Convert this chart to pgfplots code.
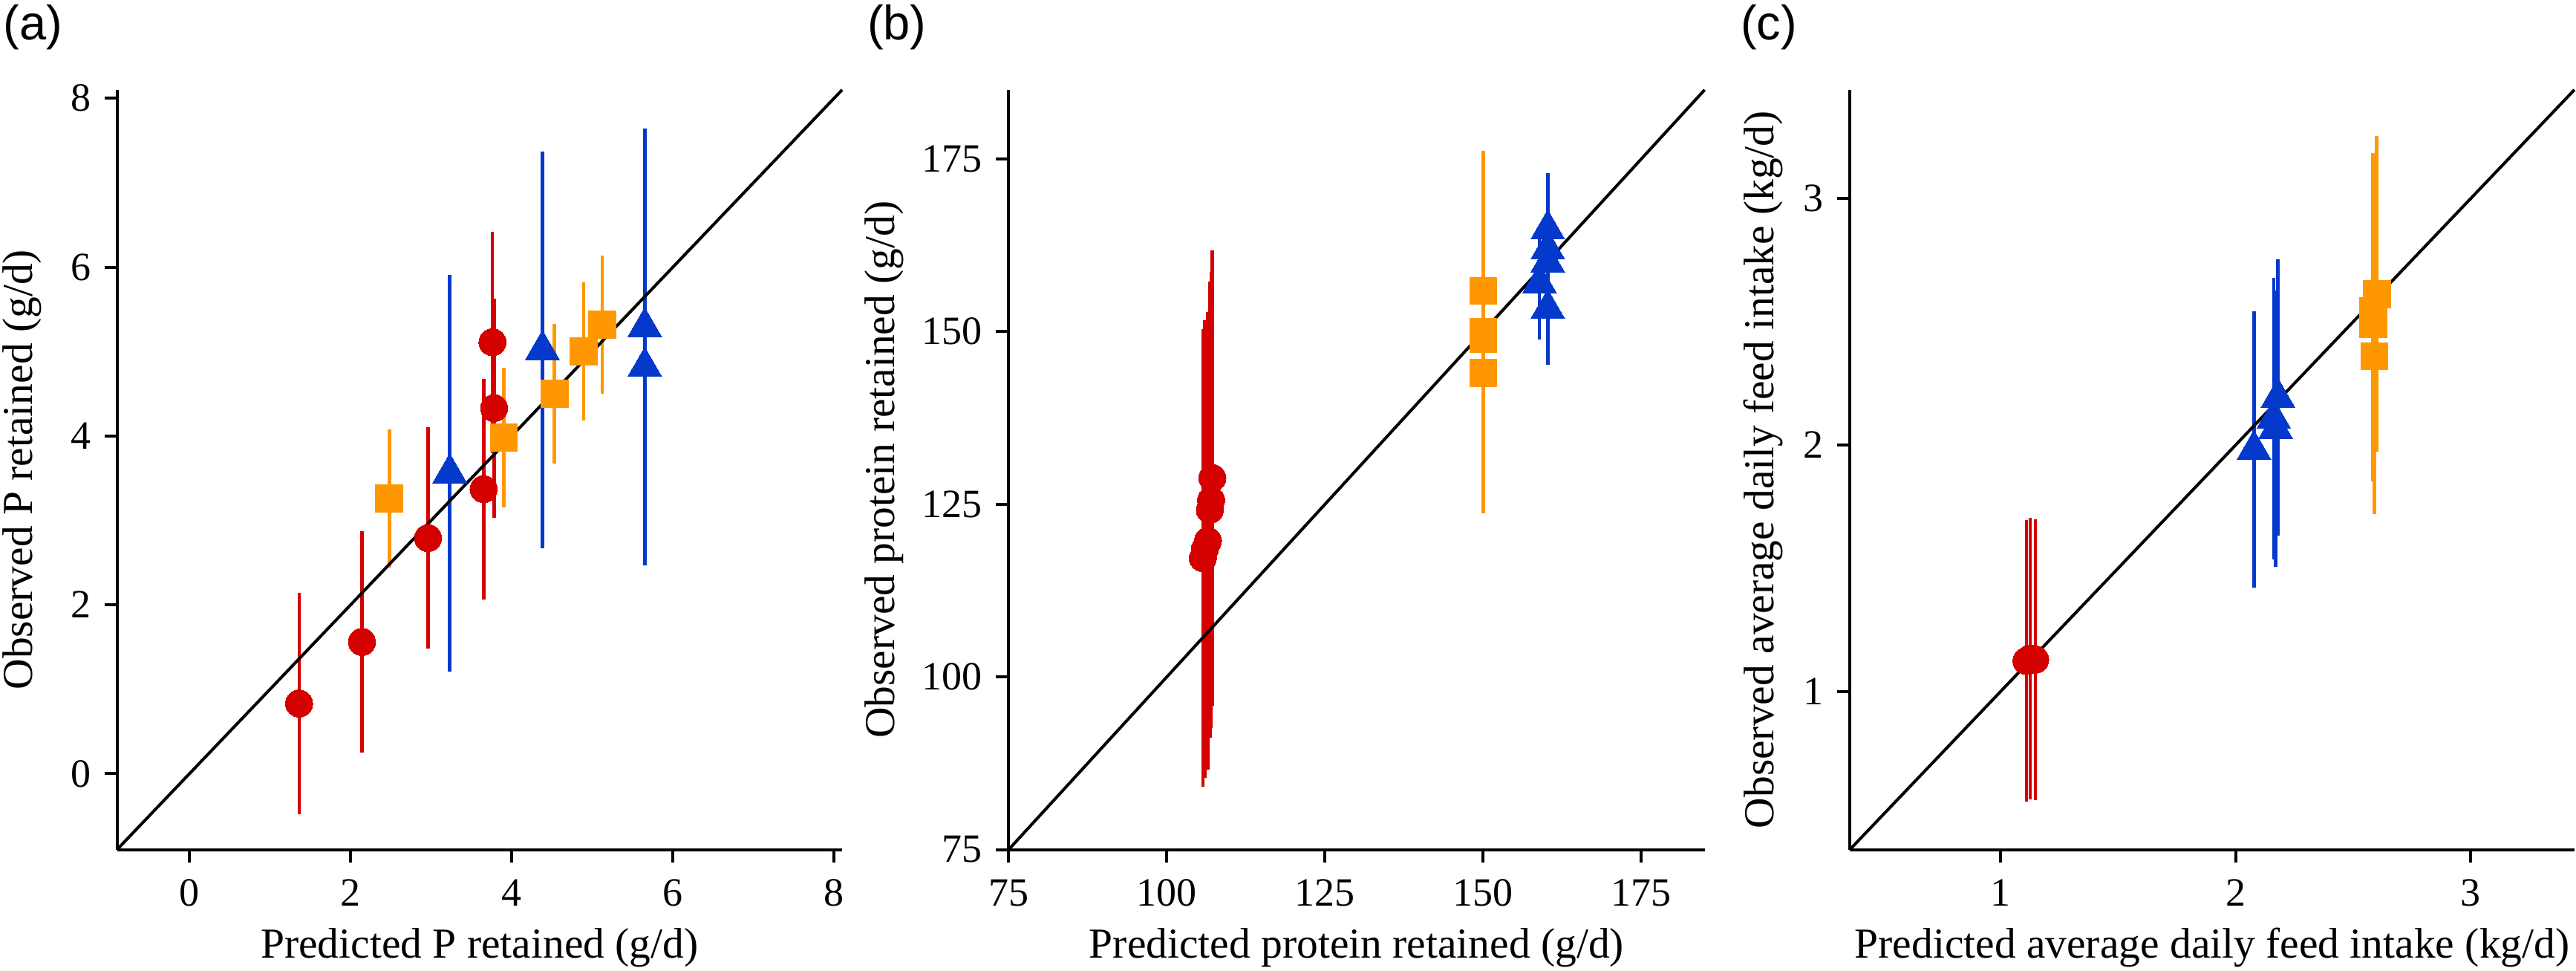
\documentclass[border=0pt]{standalone}
\usepackage{pgfplots}
\pgfplotsset{compat=1.18}
\usepackage{fontspec}
\setmainfont{Liberation Serif}
\newfontfamily\panelfont{Liberation Sans}
\definecolor{cred}{RGB}{213,0,0}
\definecolor{corange}{RGB}{255,152,0}
\definecolor{cblue}{RGB}{4,57,204}
\pgfplotsset{
  myaxis/.style={
    scale only axis, height=204.54pt,
    anchor=south west,
    axis x line=bottom, axis y line=left,
    axis line style={-, line width=0.8pt},
    enlargelimits=false,
    tick align=outside, major tick length=3.4pt,
    tick style={line width=0.8pt, black},
    /pgf/number format/assume math mode=true,
    tick label style={font=\fontsize{10.8}{12}\selectfont},
    label style={font=\fontsize{11.5}{13}\selectfont},
    xticklabel style={anchor=base, inner sep=0pt, yshift=-11.8pt},
    yticklabel style={anchor=east, inner sep=0pt, xshift=-3.5pt},
    xlabel style={at={(axis description cs:0.5,-0.129)}, anchor=center},
    clip=false,
  },
  redp/.style={only marks, mark=*, mark size=3.67pt, color=cred,
    mark options={fill=cred, draw=cred, line width=0pt},
    error bars/.cd, y dir=both, y explicit, error mark=none,
    error bar style={line width=0.9pt, cred}},
  orap/.style={only marks, mark=square*, mark size=3.67pt, color=corange,
    mark options={fill=corange, draw=corange, line width=0pt},
    error bars/.cd, y dir=both, y explicit, error mark=none,
    error bar style={line width=0.9pt, corange}},
  blup/.style={only marks, mark=triangle*, mark size=5.3pt, color=cblue,
    mark options={fill=cblue, draw=cblue, line width=0pt},
    error bars/.cd, y dir=both, y explicit, error mark=none,
    error bar style={line width=0.9pt, cblue}},
  diag/.style={black, line width=0.8pt, no marks},
}
\begin{document}
\begin{tikzpicture}
\useasboundingbox (0,0) rectangle (693.8pt,261.4pt);
% ---------- (a)
\begin{axis}[myaxis, at={(31.52pt,32.68pt)}, width=195.3pt,
  xmin=-0.9, xmax=8.1, ymin=-0.9, ymax=8.1,
  xtick={0,2,4,6,8}, ytick={0,2,4,6,8},
  xlabel={Predicted P retained (g/d)},
  ylabel={Observed P retained (g/d)},
  ylabel style={at={(axis description cs:-0.131,0.5)}, anchor=center}]
\addplot+[redp] coordinates {
 (1.36,0.83) +- (0,1.31)
 (2.14,1.56) +- (0,1.31)
 (2.96,2.79) +- (0,1.31)
 (3.65,3.37) +- (0,1.31)
 (3.78,4.33) +- (0,1.30)
 (3.76,5.11) +- (0,1.31)
};
\addplot+[orap] coordinates {
 (2.48,3.26) +- (0,0.82)
 (3.90,3.98) +- (0,0.83)
 (4.53,4.50) +- (0,0.83)
 (4.89,5.00) +- (0,0.82)
 (5.12,5.32) +- (0,0.82)
};
\addplot+[blup] coordinates {
 (3.23,3.56) +- (0,2.35)
 (4.38,5.02) +- (0,2.35)
 (5.65,5.29) +- (0,2.35)
 (5.65,4.82) +- (0,2.35)
};
\addplot[diag] coordinates {(-0.9,-0.9) (8.1,8.1)};
\end{axis}
% ---------- (b)
\begin{axis}[myaxis, at={(271.66pt,32.68pt)}, width=187.46pt,
  xmin=75, xmax=185, ymin=75, ymax=185,
  xtick={75,100,125,150,175}, ytick={75,100,125,150,175},
  xlabel={Predicted protein retained (g/d)},
  ylabel={Observed protein retained (g/d)},
  ylabel style={at={(axis description cs:-0.179,0.5)}, anchor=center}]
\addplot+[redp] coordinates {
 (105.7,117.2) +- (0,33.1)
 (106.0,118.5) +- (0,33.1)
 (106.5,119.7) +- (0,33.1)
 (106.8,124.2) +- (0,33.0)
 (107.0,125.6) +- (0,33.0)
 (107.2,128.8) +- (0,33.0)
};
\addplot+[orap] coordinates {
 (150.0,155.9) +- (0,20.3)
 (150.0,149.9) +- (0,20.3)
 (150.0,148.9) +- (0,20.3)
 (150.0,144.0) +- (0,20.3)
};
\addplot+[blup] coordinates {
 (160.2,164.8) +- (0,8.1)
 (160.2,161.9) +- (0,8.1)
 (160.2,160.0) +- (0,8.1)
 (158.9,157.0) +- (0,8.1)
 (160.2,153.3) +- (0,8.1)
};
\addplot[diag] coordinates {(75,75) (185,185)};
\end{axis}
% ---------- (c)
\begin{axis}[myaxis, at={(498.22pt,32.68pt)}, width=195.14pt,
  xmin=0.36, xmax=3.44, ymin=0.36, ymax=3.44,
  xtick={1,2,3}, ytick={1,2,3},
  xlabel={Predicted average daily feed intake (kg/d)},
  ylabel={Observed average daily feed intake (kg/d)},
  ylabel style={at={(axis description cs:-0.120,0.5)}, anchor=center}]
\addplot+[redp] coordinates {
 (1.111,1.125) +- (0,0.57)
 (1.126,1.135) +- (0,0.57)
 (1.148,1.130) +- (0,0.57)
};
\addplot+[orap] coordinates {
 (2.600,2.612) +- (0,0.64)
 (2.584,2.543) +- (0,0.64)
 (2.584,2.491) +- (0,0.64)
 (2.590,2.360) +- (0,0.64)
};
\addplot+[blup] coordinates {
 (2.078,1.981) +- (0,0.56)
 (2.180,2.192) +- (0,0.56)
 (2.162,2.107) +- (0,0.57)
 (2.170,2.066) +- (0,0.56)
};
\addplot[diag] coordinates {(0.36,0.36) (3.44,3.44)};
\end{axis}
\node[anchor=north west, inner sep=0pt, font=\panelfont\fontsize{13}{15}\selectfont] at (0.8pt,260.4pt) {(a)};
\node[anchor=north west, inner sep=0pt, font=\panelfont\fontsize{13}{15}\selectfont] at (233.4pt,260.4pt) {(b)};
\node[anchor=north west, inner sep=0pt, font=\panelfont\fontsize{13}{15}\selectfont] at (468.6pt,260.4pt) {(c)};
\end{tikzpicture}
\end{document}
